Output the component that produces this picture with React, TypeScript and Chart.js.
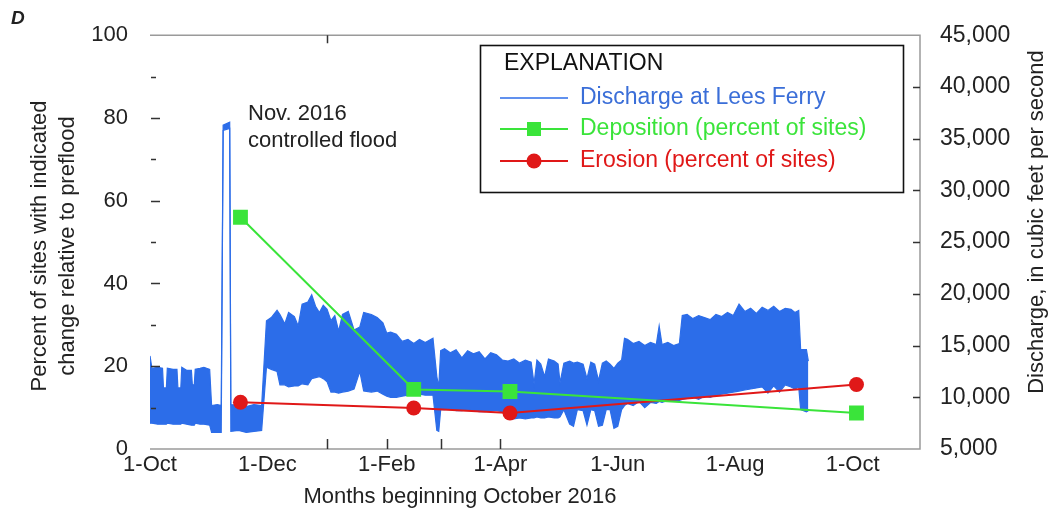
import React, { useEffect, useRef } from "react";
import { Chart, registerables } from "chart.js";

Chart.register(...registerables);

// Day 0 of the horizontal axis is 1 October 2016.
const ORIGIN = Date.UTC(2016, 9, 1);
const dayOf = (iso: string) => (Date.parse(iso + "T00:00:00Z") - ORIGIN) / 86400000;

// Sandbar survey dates and percent of sites showing change
const surveyDates = ["2016-11-17", "2017-02-15", "2017-04-06", "2017-10-03"];
const depositionPct = [56, 14.4, 13.9, 8.7];
const erosionPct = [11.3, 9.9, 8.7, 15.6];

// Discharge at Lees Ferry: days since 1 Oct 2016 with daily high / low flow (cfs)
const flowDays = [
  0, 1, 4, 6.5, 7, 8.5, 9, 12, 14, 14.5, 16, 16.5, 19, 21.5, 22, 23, 23.5, 26, 28, 31, 32, 35, 37, 38, 41.4, 42,
  46, 50, 54, 58, 60.5, 63, 66, 67.5, 70, 72, 75, 77, 79, 82, 84, 86, 88, 90, 92, 94,
  96, 98, 100, 103, 106, 109, 111, 115, 118, 121, 123, 125, 128, 131, 134, 137, 140, 143, 147, 149,
  150, 151, 153, 156, 159, 162, 165, 168, 171, 174, 177, 180, 183, 186, 189, 192, 195, 198, 199.5, 201,
  203, 205, 207, 210, 212, 213, 215, 218, 220, 222, 225, 227, 229, 231, 233, 235, 237, 239, 241, 243,
  245, 246.5, 248, 251, 254, 257, 260, 263, 264.5, 266, 269, 272, 275, 276.5, 279, 282, 285, 288, 291, 294,
  297, 300, 303, 306, 309, 312, 315, 318, 321, 324, 327, 330, 333, 335, 337, 338, 341, 342,
];
const flowHigh = [
  14000, 12800, 12900, 12800, 10900, 10900, 12800, 12700, 12700, 10900, 10900, 12900, 12600, 12600, 11200, 11200, 12700, 12800, 12900, 12700, 9200, 9300, 9200, 36300, 36600, 9300,
  9200, 9100, 9300, 9200, 17400, 17700, 18400, 18000, 17100, 18200, 17800, 16900, 19000, 19200, 19900, 18800, 18200, 18900, 18500, 17400,
  17900, 16400, 18000, 18300, 16500, 16800, 18200, 18000, 17700, 17200, 16200, 16300, 16100, 15400, 15600, 15200, 15600, 15300, 15700, 12000,
  11000, 14500, 14700, 14300, 14600, 13800, 14500, 14200, 14400, 13700, 14300, 14100, 13600, 13500, 13700, 13300, 13600, 13400, 11300, 13600,
  13200, 12000, 13700, 13500, 13200, 11400, 13300, 13500, 13300, 13400, 13200, 11800, 13400, 13200, 11600, 13300, 13500, 13200, 12800, 13300,
  13600, 15700, 15600, 15200, 15400, 15000, 15300, 15100, 16900, 15100, 15300, 15000, 15200, 17900, 18000, 17600, 17900, 17700, 17500, 18000,
  17800, 18200, 17900, 19000, 18300, 18600, 18100, 18700, 18400, 18800, 18300, 18600, 18500, 18200, 18400, 14600, 14600, 13500,
];
const flowLow = [
  7500, 7500, 7400, 7400, 7400, 7400, 7500, 7400, 7400, 7400, 7400, 7500, 7400, 7300, 7300, 7300, 7500, 7400, 7400, 7300, 6600, 6600, 6600, 35800, 36000, 6700,
  6800, 6600, 6700, 6800, 12900, 12700, 12500, 11200, 11200, 11000, 11100, 11100, 11300, 11200, 11800, 11900, 12000, 11800, 11500, 10500,
  10500, 10400, 10500, 10600, 10800, 12500, 10600, 10500, 10600, 10300, 10100, 10000, 10000, 10100, 10200, 10200, 10300, 10200, 10200, 6800,
  6700, 8800, 8800, 8900, 8700, 8700, 8800, 8700, 8600, 8600, 8700, 8700, 8600, 8000, 7900, 8000, 7900, 8000, 8000, 8100,
  8000, 8000, 8100, 8000, 8000, 8100, 8800, 7400, 7200, 8800, 8700, 7300, 8800, 8700, 7200, 7300, 8800, 8800, 7000, 7200,
  8800, 9200, 9400, 9200, 9600, 9000, 9500, 9400, 9600, 9500, 9700, 9600, 9700, 9800, 9900, 10000, 9800, 10100, 10000, 10200,
  10300, 10400, 10500, 10600, 10700, 10800, 10900, 11000, 10400, 11100, 10500, 11200, 11000, 10800, 11000, 8800, 8600, 8700,
];

// Month starts on the time axis, and their labels (every other month)
const monthStartDays = [0, 31, 61, 92, 123, 151, 182, 212, 243, 273, 304, 335, 365];
const monthLabels = ["1-Oct", "", "1-Dec", "", "1-Feb", "", "1-Apr", "", "1-Jun", "", "1-Aug", "", "1-Oct"];
const bottomTickDays = [92, 123, 151, 182];
const topTickDays = [92];

const BLUE = "#2c6de9";
const BLUE_TEXT = "#3a6ed8";
const GREEN = "#3ae43a";
const RED = "#e01818";
const INK = "#222222";
const FONT = '"Liberation Sans", Arial, Helvetica, sans-serif';

const decorations = {
  id: "decorations",
  afterDraw(chart: any) {
    const { ctx, chartArea: a, scales } = chart;
    const x = scales.x;
    const yL = scales.y;
    const yR = scales.yQ;
    ctx.save();

    // plot frame (top, right, bottom)
    ctx.strokeStyle = "#9a9a9a";
    ctx.lineWidth = 1.5;
    ctx.beginPath();
    ctx.moveTo(a.left, a.top);
    ctx.lineTo(a.right, a.top);
    ctx.lineTo(a.right, a.bottom);
    ctx.lineTo(a.left, a.bottom);
    ctx.stroke();

    // inward tick marks
    ctx.strokeStyle = "#333";
    ctx.lineWidth = 1.5;
    ctx.beginPath();
    for (let v = 10; v < 100; v += 10) {
      const py = Math.round(yL.getPixelForValue(v)) + 0.5;
      const len = v % 20 === 0 ? 9 : 5;
      ctx.moveTo(a.left + 1, py);
      ctx.lineTo(a.left + 1 + len, py);
    }
    for (let v = 10000; v < 45000; v += 5000) {
      const py = Math.round(yR.getPixelForValue(v)) + 0.5;
      ctx.moveTo(a.right, py);
      ctx.lineTo(a.right - 7, py);
    }
    for (const d of bottomTickDays) {
      const px = Math.round(x.getPixelForValue(d)) + 0.5;
      ctx.moveTo(px, a.bottom);
      ctx.lineTo(px, a.bottom - 10);
    }
    for (const d of topTickDays) {
      const px = Math.round(x.getPixelForValue(d)) + 0.5;
      ctx.moveTo(px, a.top);
      ctx.lineTo(px, a.top + 8);
    }
    ctx.stroke();

    // panel letter
    ctx.fillStyle = INK;
    ctx.font = `italic bold 19px ${FONT}`;
    ctx.textBaseline = "middle";
    ctx.textAlign = "left";
    ctx.fillText("D", 11, 19);

    // flood annotation
    ctx.font = `22px ${FONT}`;
    ctx.fillText("Nov. 2016", 248, 114);
    ctx.fillText("controlled flood", 248, 141);

    // axis titles
    ctx.textAlign = "center";
    ctx.fillText("Months beginning October 2016", 460, 497);

    ctx.save();
    ctx.translate(40, 246);
    ctx.rotate(-Math.PI / 2);
    ctx.fillText("Percent of sites with indicated", 0, 0);
    ctx.restore();
    ctx.save();
    ctx.translate(68, 246);
    ctx.rotate(-Math.PI / 2);
    ctx.fillText("change relative to preflood", 0, 0);
    ctx.restore();
    ctx.save();
    ctx.translate(1037, 222);
    ctx.rotate(-Math.PI / 2);
    ctx.fillText("Discharge, in cubic feet per second", 0, 0);
    ctx.restore();

    // explanation box
    ctx.fillStyle = "#fff";
    ctx.fillRect(480, 45, 423, 147);
    ctx.strokeStyle = "#111";
    ctx.lineWidth = 1.6;
    ctx.strokeRect(480.5, 45.5, 423, 147);

    ctx.textAlign = "left";
    ctx.font = `23px ${FONT}`;
    ctx.fillStyle = "#111";
    ctx.fillText("EXPLANATION", 504, 64);

    const rows = [
      { y: 98, color: BLUE, text: BLUE_TEXT, label: "Discharge at Lees Ferry", mark: "" },
      { y: 129, color: GREEN, text: GREEN, label: "Deposition (percent of sites)", mark: "rect" },
      { y: 161, color: RED, text: RED, label: "Erosion (percent of sites)", mark: "circle" },
    ];
    for (const r of rows) {
      ctx.strokeStyle = r.color;
      ctx.lineWidth = r.mark ? 2 : 1.5;
      ctx.beginPath();
      ctx.moveTo(500, r.y);
      ctx.lineTo(568, r.y);
      ctx.stroke();
      ctx.fillStyle = r.color;
      if (r.mark === "rect") ctx.fillRect(527, r.y - 7, 14, 14);
      if (r.mark === "circle") {
        ctx.beginPath();
        ctx.arc(534, r.y, 7.5, 0, Math.PI * 2);
        ctx.fill();
      }
      ctx.fillStyle = r.text;
      ctx.fillText(r.label, 580, r.y);
    }
    ctx.restore();
  },
};

export default function App() {
  const ref = useRef<HTMLCanvasElement | null>(null);

  useEffect(() => {
    const canvas = ref.current;
    if (!canvas) return;
    const tickFont = { family: FONT, size: 22 };
    const surveyX = surveyDates.map(dayOf);

    const chart = new Chart(canvas, {
      type: "line",
      data: {
        datasets: [
          {
            label: "Deposition (percent of sites)",
            data: surveyX.map((d, i) => ({ x: d, y: depositionPct[i] })),
            borderColor: GREEN,
            backgroundColor: GREEN,
            borderWidth: 2,
            pointStyle: "rect",
            pointRadius: 10.5,
            pointBorderWidth: 0,
            yAxisID: "y",
            order: 0,
          },
          {
            label: "Erosion (percent of sites)",
            data: surveyX.map((d, i) => ({ x: d, y: erosionPct[i] })),
            borderColor: RED,
            backgroundColor: RED,
            borderWidth: 2,
            pointStyle: "circle",
            pointRadius: 7.5,
            pointBorderWidth: 0,
            yAxisID: "y",
            order: 0,
          },
          {
            label: "Discharge at Lees Ferry",
            data: flowDays.map((d, i) => ({ x: d, y: flowHigh[i] })),
            borderColor: BLUE,
            backgroundColor: BLUE,
            borderWidth: 1.2,
            pointRadius: 0,
            fill: "+1",
            yAxisID: "yQ",
            order: 1,
          },
          {
            label: "Discharge low",
            data: flowDays.map((d, i) => ({ x: d, y: flowLow[i] })),
            borderColor: BLUE,
            backgroundColor: BLUE,
            borderWidth: 1.2,
            pointRadius: 0,
            fill: false,
            yAxisID: "yQ",
            order: 1,
          },
        ],
      },
      options: {
        responsive: false,
        animation: false,
        layout: { padding: { top: 33, left: 0, right: 0, bottom: 0 } },
        plugins: { legend: { display: false }, tooltip: { enabled: false } },
        scales: {
          x: {
            type: "linear",
            min: 0,
            max: 400,
            afterBuildTicks: (s: any) => {
              s.ticks = monthStartDays.map((v) => ({ value: v }));
            },
            afterFit: (s: any) => {
              s.height = 69;
            },
            ticks: {
              autoSkip: false,
              maxRotation: 0,
              padding: 3,
              color: INK,
              font: tickFont,
              callback: (_v: any, i: number) => monthLabels[i],
            },
            grid: { display: false, drawTicks: false },
            border: { display: false },
          },
          y: {
            position: "left",
            min: 0,
            max: 100,
            afterFit: (s: any) => {
              s.width = 150;
            },
            ticks: { stepSize: 20, padding: 22, color: INK, font: tickFont },
            grid: { display: false, drawTicks: false },
            border: { display: false },
          },
          yQ: {
            position: "right",
            min: 5000,
            max: 45000,
            afterFit: (s: any) => {
              s.width = 130;
            },
            ticks: {
              stepSize: 5000,
              padding: 20,
              color: INK,
              font: { family: FONT, size: 23 },
              callback: (v: any) => Number(v).toLocaleString("en-US"),
            },
            grid: { display: false, drawTicks: false },
            border: { display: false },
          },
        },
      },
      plugins: [decorations],
    });
    return () => chart.destroy();
  }, []);

  return (
    <div style={{ position: "absolute", left: 0, top: 0, width: 1050, height: 518, background: "#fff" }}>
      <canvas ref={ref} width={1050} height={518} style={{ display: "block" }} />
    </div>
  );
}
